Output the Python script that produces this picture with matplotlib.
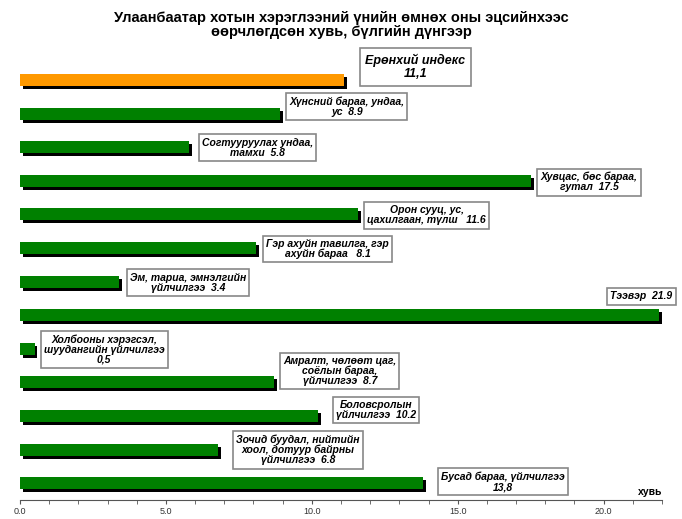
import matplotlib
matplotlib.use('Agg')
import matplotlib.pyplot as plt
from matplotlib.ticker import MultipleLocator, FormatStrFormatter

plt.rcParams['font.family'] = ['Liberation Sans', 'DejaVu Sans']

# Data
categories = ['Ерөнхий индекс', 'Хүнсний бараа, ундаа, ус', 'Согтууруулах ундаа, тамхи',
              'Хувцас, бөс бараа, гутал', 'Орон сууц, ус, цахилгаан, түлш',
              'Гэр ахуйн тавилга, гэр ахуйн бараа', 'Эм, тариа, эмнэлгийн үйлчилгээ',
              'Тээвэр', 'Холбооны хэрэгсэл, шуудангийн үйлчилгээ',
              'Амралт, чөлөөт цаг, соёлын бараа, үйлчилгээ', 'Боловсролын үйлчилгээ',
              'Зочид буудал, нийтийн хоол, дотуур байрны үйлчилгээ', 'Бусад бараа, үйлчилгээ']
values = [11.1, 8.9, 5.8, 17.5, 11.6, 8.1, 3.4, 21.9, 0.5, 8.7, 10.2, 6.8, 13.8]
labels = ['Ерөнхий индекс\n11,1',
          'Хүнсний бараа, ундаа,\nус  8.9',
          'Согтууруулах ундаа,\nтамхи  5.8',
          'Хувцас, бөс бараа,\nгутал  17.5',
          'Орон сууц, ус,\nцахилгаан, түлш   11.6',
          'Гэр ахуйн тавилга, гэр\nахуйн бараа   8.1',
          'Эм, тариа, эмнэлгийн\nүйлчилгээ  3.4',
          'Тээвэр  21.9',
          'Холбооны хэрэгсэл,\nшуудангийн үйлчилгээ\n0,5',
          'Амралт, чөлөөт цаг,\nсоёлын бараа,\nүйлчилгээ  8.7',
          'Боловсролын\nүйлчилгээ  10.2',
          'Зочид буудал, нийтийн\nхоол, дотуур байрны\nүйлчилгээ  6.8',
          'Бусад бараа, үйлчилгээ\n13,8']

# label box offsets from bar end (layout only)
label_dx = [2.45, 2.3, 2.35, 2.0, 2.34, 2.45, 2.35, -0.6, 2.38, 2.26, 2.0, 2.72, 2.74]
label_dy = [-0.39, -0.2, 0.01, 0.04, 0.03, 0.03, 0.03, -0.56, 0.02, -0.34, -0.18, 0.01, -0.04]

colors = ['#ff9900'] + ['#008000'] * (len(values) - 1)

fig = plt.figure(figsize=(6.82, 5.19), dpi=100)
ax = fig.add_axes([0.0293, 0.0366, 0.9413, 0.874])

pos = list(range(len(values)))
# shadows
ax.barh([p + 0.09 for p in pos], values, height=0.36, left=0.1, color='black', zorder=2)
ax.barh(pos, values, height=0.36, color=colors, zorder=3)

for p, v, lab, dx, dy in zip(pos, values, labels, label_dx, label_dy):
    big = (p == 0)
    ax.text(v + dx, p + dy, lab, ha='center', va='center', fontsize=9 if big else 7.5,
            fontweight='bold', style='italic', linespacing=1.15 if big else 1.0, zorder=5,
            bbox=dict(boxstyle='square,pad=0.45' if big else 'square,pad=0.3',
                      facecolor='white', edgecolor='#888888', linewidth=1.2))

ax.set_xlim(0, 22)
ax.set_ylim(12.5, -1.0)
ax.xaxis.set_major_locator(MultipleLocator(5))
ax.xaxis.set_minor_locator(MultipleLocator(1))
ax.xaxis.set_major_formatter(FormatStrFormatter('%.1f'))
ax.tick_params(axis='x', which='both', length=3, direction='out', color='#555555',
               labelsize=6.5, labelcolor='#333333', pad=2)
ax.set_yticks([])
for s in ['top', 'right', 'left']:
    ax.spines[s].set_visible(False)
ax.spines['bottom'].set_color('#555555')

ax.text(22, 12.26, 'хувь', ha='right', va='center', fontsize=7.5, fontweight='bold')

fig.text(0.5, 0.978, 'Улаанбаатар хотын хэрэглээний үнийн өмнөх оны эцсийнхээс\nөөрчлөгдсөн хувь, бүлгийн дүнгээр',
         ha='center', va='top', fontsize=10.5, fontweight='bold', linespacing=1.0)

fig.savefig('out.png', dpi=100)
